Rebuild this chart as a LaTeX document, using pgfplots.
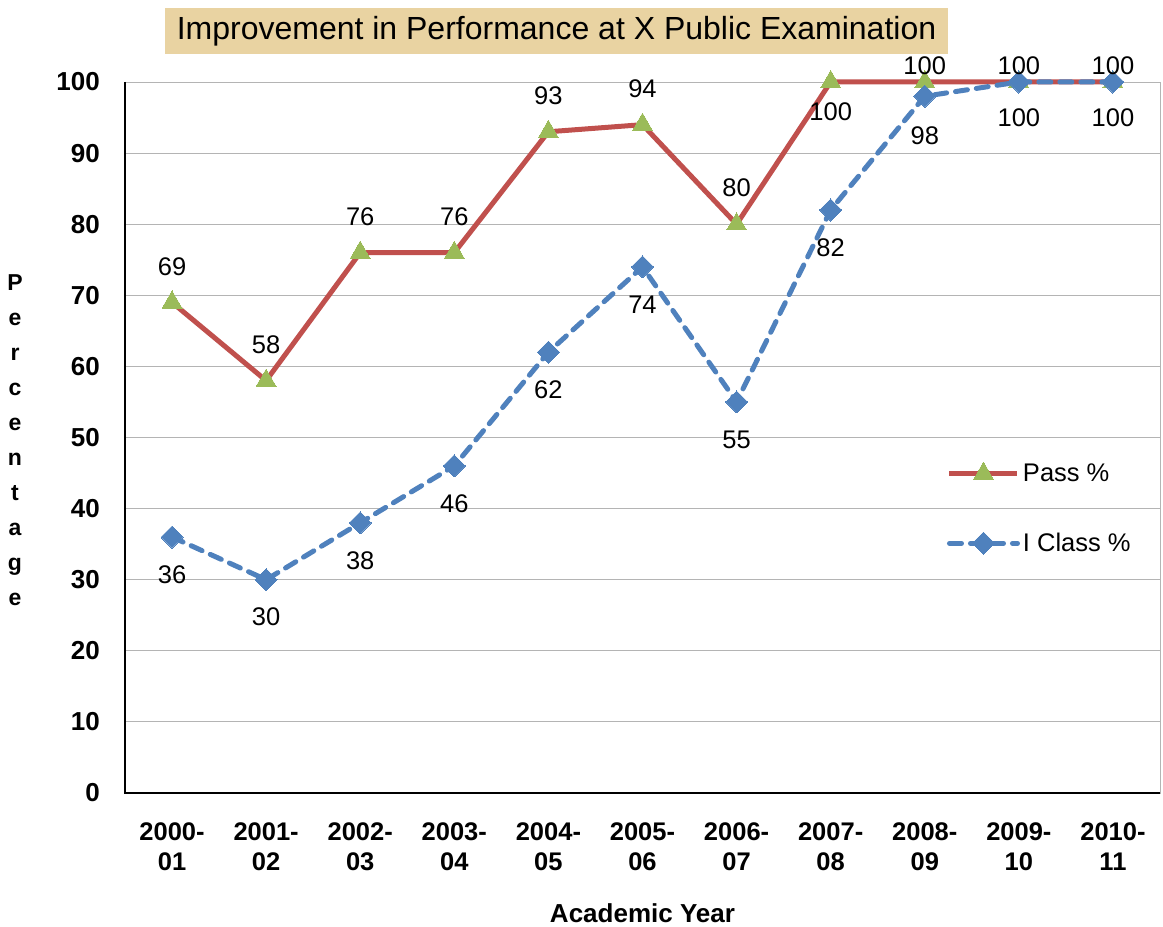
\documentclass[border=0pt]{standalone}
\usepackage{pgfplots}
\pgfplotsset{compat=1.18}
\usepackage{pgfplotstable}
\usepackage{fontspec}
\setmainfont{Liberation Sans}
\definecolor{passred}{HTML}{C0504D}
\definecolor{passgreen}{HTML}{9BBB59}
\definecolor{iblue}{HTML}{4F81BD}
\definecolor{titlebg}{HTML}{E9D3A2}
\definecolor{gridgray}{HTML}{B4B4B4}

% ppos / ipos: vertical offset of the value label (pt)
\pgfplotstableread{
x pass ppos iclass ipos
0 69 36 36 -38
1 58 36 30 -37
2 76 36 38 -38
3 76 36 46 -38
4 93 36 62 -38
5 94 36 74 -38
6 80 36 55 -38
7 100 -30 82 -38
8 100 16 98 -40
9 100 -36 100 16
10 100 -36 100 16
}\data

\begin{document}
\begin{tikzpicture}
\path[use as bounding box] (-125pt,-134pt) rectangle (1038pt,793pt);
\node[fill=titlebg, minimum width=783pt, minimum height=46pt, inner sep=0pt, font=\fontsize{32}{36}\selectfont] at (431.5pt,762pt) {Improvement in Performance at X Public Examination};
\begin{axis}[
  scale only axis, width=1035pt, height=711pt,
  xmin=-0.5, xmax=10.5, ymin=0, ymax=100,
  xtick={0,...,10},
  xticklabels={{2000-\\01},{2001-\\02},{2002-\\03},{2003-\\04},{2004-\\05},{2005-\\06},{2006-\\07},{2007-\\08},{2008-\\09},{2009-\\10},{2010-\\11}},
  ytick={0,10,...,100},
  ymajorgrids, grid style={draw=gridgray, line width=0.9pt},
  major tick length=0pt,
  axis line style={draw=gridgray, line width=0.9pt},
  /pgf/number format/assume math mode=true,
  xticklabel style={font=\bfseries\fontsize{25.5}{30}\selectfont, align=center, inner sep=0pt, anchor=north, yshift=-29pt},
  yticklabel style={font=\bfseries\fontsize{26}{30}\selectfont, inner sep=0pt, anchor=east, xshift=-25pt},
  xlabel={Academic Year},
  xlabel style={font=\bfseries\fontsize{26}{30}\selectfont, at={(axis description cs:0.5,0)}, anchor=center, yshift=-120pt},
  ylabel={P\\e\\r\\c\\e\\n\\t\\a\\g\\e},
  ylabel style={rotate=-90, font=\bfseries\fontsize{23}{35}\selectfont, align=center, at={(axis description cs:0,0.5)}, anchor=center, xshift=-110pt, yshift=-3pt},
  legend style={at={(axis description cs:0.794,0.40)}, anchor=west, draw=none, fill=none, inner sep=0pt,
    font=\fontsize{25.5}{30}\selectfont, row sep=44pt, nodes={inner sep=3pt}},
  legend cell align=left,
  legend image code/.code={\draw[mark repeat=2, mark phase=2, #1] plot coordinates {(0pt,0pt) (34pt,0pt) (68pt,0pt)};},
  clip=false,
  after end axis/.code={\draw[black, line width=1.2pt] (rel axis cs:0,1) -- (rel axis cs:0,0) -- (rel axis cs:1,0);},
]
\addplot[passred, line width=5pt, mark=triangle*, mark size=11.5pt,
  mark options={fill=passgreen, draw=passgreen, line width=0pt, solid},
  nodes near coords, point meta=explicit,
  visualization depends on={\thisrow{ppos} \as \lpos},
  every node near coord/.append style={anchor=center, yshift=\lpos pt, text=black, font=\fontsize{25.5}{30}\selectfont}]
  table[x=x, y=pass, meta=pass]{\data};
\addlegendentry{Pass \%}
\addplot[iblue, line width=5pt, dash pattern=on 12pt off 9pt, line cap=round, mark=square*, mark size=7.8pt,
  mark options={fill=iblue, draw=iblue, line width=0pt, solid, rotate=45},
  nodes near coords, point meta=explicit,
  visualization depends on={\thisrow{ipos} \as \lpos},
  every node near coord/.append style={anchor=center, yshift=\lpos pt, text=black, font=\fontsize{25.5}{30}\selectfont}]
  table[x=x, y=iclass, meta=iclass]{\data};
\addlegendentry{I Class \%}
\end{axis}
\end{tikzpicture}
\end{document}
